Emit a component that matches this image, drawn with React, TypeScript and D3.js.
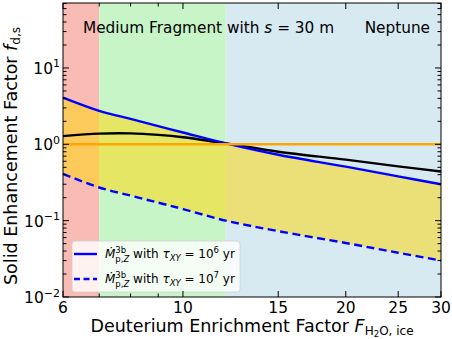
import React from 'react';
import * as d3 from 'd3';

// enrichment factor samples and curves
const enrichment = [6, 7, 8, 9, 10, 12, 15, 20, 25, 30];
const fastRate = [4.1, 2.75, 2.15, 1.73, 1.43, 1.03, 0.73, 0.51, 0.38, 0.3];
const slowRate = [0.41, 0.272, 0.213, 0.172, 0.142, 0.1, 0.073, 0.051, 0.038, 0.03];
const blackCurve = [1.28, 1.38, 1.39, 1.33, 1.24, 1.03, 0.8, 0.63, 0.515, 0.44];
const refLevel = 1.0;

const regionEdges = [6, 7, 12, 30];
const regionColors = ['#f8bcb4', '#c8f5c8', '#d7e9f1'];

const xMajor = [6, 10, 15, 20, 25, 30];
const xMinor = [7, 8, 9];
const yMajorExp = [-2, -1, 0, 1];

const W = 452, H = 339;
const L = 63, R = 441, T = 3, B = 297;
const font = 'DejaVu Sans, sans-serif';

export default function App() {
  const x = d3.scaleLog().domain([6, 30]).range([L, R]);
  const y = d3.scaleLog().domain([0.01, 71]).range([B, T]);

  const pts = (vals: number[]) => enrichment.map((f, i) => [x(f), y(vals[i])] as [number, number]);
  const line = d3.line().curve(d3.curveCatmullRom);

  const band = d3.area<number>()
    .x((_, i) => x(enrichment[i]))
    .y0((_, i) => y(slowRate[i]))
    .y1((_, i) => y(fastRate[i]))
    .curve(d3.curveCatmullRom);

  const yMinor: number[] = [];
  for (let e = -2; e <= 1; e++) {
    for (let m = 2; m <= 9; m++) {
      const v = m * Math.pow(10, e);
      if (v < 71) yMinor.push(v);
    }
  }

  const legend = [
    { dash: undefined, exp: '6' },
    { dash: '6,3.5', exp: '7' },
  ];

  return (
    <svg width={W} height={H} style={{ position: 'absolute', left: 0, top: 0, background: '#fff' }} fontFamily={font}>
      {regionColors.map((c, i) => (
        <rect key={i} x={x(regionEdges[i])} y={T} width={x(regionEdges[i + 1]) - x(regionEdges[i])} height={B - T} fill={c} />
      ))}
      <path d={band(enrichment) || ''} fill="#ffd700" fillOpacity={0.5} />
      <path d={line(pts(blackCurve)) || ''} fill="none" stroke="#000" strokeWidth={2.4} />
      <path d={line(pts(fastRate)) || ''} fill="none" stroke="#0000ff" strokeWidth={2.4} />
      <path d={line(pts(slowRate)) || ''} fill="none" stroke="#0000ff" strokeWidth={2.4} strokeDasharray="8,4.5" />
      <line x1={L} x2={R} y1={y(refLevel)} y2={y(refLevel)} stroke="#ffa500" strokeWidth={2.4} />

      <text x={83} y={33} fontSize={15.3}>
        Medium Fragment with <tspan fontStyle="italic">s</tspan> = 30 m
      </text>
      <text x={430} y={33} fontSize={15.3} textAnchor="end">Neptune</text>

      {/* legend */}
      <rect x={72} y={241} width={168} height={51} rx={3} fill="#fff" fillOpacity={0.8} stroke="#d0d0d0" strokeWidth={0.8} />
      {legend.map((d, i) => {
        const ly = 254 + i * 25;
        return (
          <g key={i}>
            <line x1={74} x2={97} y1={ly} y2={ly} stroke="#0000ff" strokeWidth={2.4} strokeDasharray={d.dash} />
            <text x={105} y={ly + 4} fontSize={12}>
              <tspan fontStyle="italic">Ṁ</tspan>
              <tspan fontSize={8.5} dy={-5}>3b</tspan>
              <tspan fontSize={8.5} dx={-10.8} dy={9}>p,<tspan fontStyle="italic">Z</tspan></tspan>
              <tspan dy={-4}> with </tspan>
              <tspan fontStyle="italic">τ</tspan>
              <tspan fontSize={8.5} fontStyle="italic" dy={3}>XY</tspan>
              <tspan dy={-3}> = 10</tspan>
              <tspan fontSize={8.5} dy={-5}>{d.exp}</tspan>
              <tspan dy={5}> yr</tspan>
            </text>
          </g>
        );
      })}

      {/* ticks */}
      {xMajor.map(v => (
        <g key={'xM' + v}>
          <line x1={x(v)} x2={x(v)} y1={B} y2={B - 6} stroke="#000" />
          <line x1={x(v)} x2={x(v)} y1={T} y2={T + 6} stroke="#000" />
          <text x={x(v)} y={313} fontSize={15.5} textAnchor="middle">{v}</text>
        </g>
      ))}
      {xMinor.map(v => (
        <g key={'xm' + v}>
          <line x1={x(v)} x2={x(v)} y1={B} y2={B - 3.5} stroke="#000" />
          <line x1={x(v)} x2={x(v)} y1={T} y2={T + 3.5} stroke="#000" />
        </g>
      ))}
      {yMajorExp.map(e => {
        const py = y(Math.pow(10, e));
        return (
          <g key={'yM' + e}>
            <line x1={L} x2={L + 6} y1={py} y2={py} stroke="#000" />
            <line x1={R} x2={R - 6} y1={py} y2={py} stroke="#000" />
            <text x={60} y={py + 6} fontSize={15.5} textAnchor="end">
              10<tspan fontSize={11} dy={-6.5}>{e < 0 ? '−' + Math.abs(e) : String(e)}</tspan>
            </text>
          </g>
        );
      })}
      {yMinor.map(v => (
        <g key={'ym' + v}>
          <line x1={L} x2={L + 3.5} y1={y(v)} y2={y(v)} stroke="#000" />
          <line x1={R} x2={R - 3.5} y1={y(v)} y2={y(v)} stroke="#000" />
        </g>
      ))}
      <rect x={L} y={T} width={R - L} height={B - T} fill="none" stroke="#000" strokeWidth={1} />

      <text x={252} y={332} fontSize={17.5} textAnchor="middle">
        Deuterium Enrichment Factor <tspan fontStyle="italic">F</tspan>
        <tspan fontSize={12} dy={3}>H</tspan>
        <tspan fontSize={8.5} dy={2}>2</tspan>
        <tspan fontSize={12} dy={-2}>O, ice</tspan>
      </text>
      <text transform={`translate(17, 156) rotate(-90)`} fontSize={17.5} textAnchor="middle">
        Solid Enhancement Factor <tspan fontStyle="italic">f</tspan>
        <tspan fontSize={12} dy={3}>d,s</tspan>
      </text>
    </svg>
  );
}
